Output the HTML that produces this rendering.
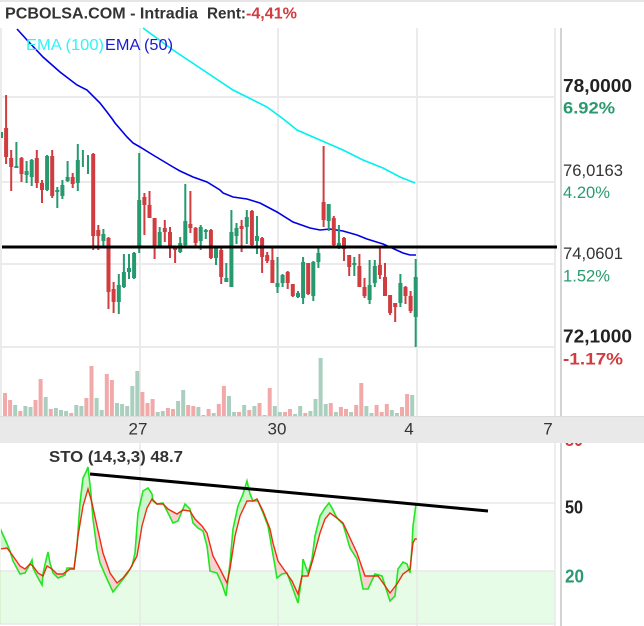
<!DOCTYPE html>
<html><head><meta charset="utf-8"><style>
html,body{margin:0;padding:0;background:#fff;overflow:hidden;width:644px;height:626px;}
svg{display:block;}
text{font-family:"Liberation Sans",sans-serif;}
</style></head><body>
<svg width="644" height="626" viewBox="0 0 644 626" xmlns="http://www.w3.org/2000/svg" xmlns:xlink="http://www.w3.org/1999/xlink">
<defs>
<path id="K" d="M0,625 L0,528 L1.7,532 6.7,543 10,551 13,561 20,574 25,573 30,564 32,560 33,568 37,576 42,585 43,574 46,560 48,552 50,563 53,573 58,578 65,575 67,568 72,568 74,569 77,546 80,503 83,478 86,472 88,467 91,494 93,519 97,549 100,563 107,579 113,592 120,583 127,574 132,566 135,553 138,513 143,491 148,488 152,494 153,501 157,504 163,503 168,513 173,523 178,521 182,511 185,504 190,509 193,523 198,528 203,531 207,546 210,571 217,573 222,584 226,596 230,563 233,529 238,506 243,494 247,481 250,494 253,501 258,501 263,513 268,526 272,549 277,578 282,574 287,573 293,589 298,603 302,576 303,559 308,573 312,559 315,536 320,516 325,508 329,503 332,508 337,518 343,524 350,548 357,559 363,589 368,589 375,574 382,576 390,601 395,596 398,569 403,562 407,564 410,573 412,546 413,526 416,504 L640,504 L640,625 Z"/>
<path id="D" d="M0,625 L0,549 L7,548 13,556 20,566 25,569 30,564 33,566 38,573 43,576 47,566 52,569 57,574 63,574 70,569 74,569 78,536 83,506 88,489 92,503 97,526 103,553 110,573 117,583 123,578 130,569 137,556 142,526 147,508 152,499 157,504 163,504 168,509 177,514 183,510 190,511 195,519 202,526 207,533 213,556 220,569 227,583 230,569 235,536 240,516 247,501 253,501 257,499 263,511 270,529 273,543 278,561 285,571 292,581 298,594 302,576 308,576 313,559 320,533 325,519 330,513 337,518 343,523 350,538 357,553 365,576 378,576 383,583 390,593 397,584 403,574 410,569 413,543 415,539 L640,539 L640,625 Z"/>
<mask id="mAboveD" maskUnits="userSpaceOnUse" x="0" y="0" width="644" height="626"><rect x="0" y="0" width="644" height="626" fill="#fff"/><use href="#D" xlink:href="#D" fill="#000"/></mask>
<mask id="mAboveK" maskUnits="userSpaceOnUse" x="0" y="0" width="644" height="626"><rect x="0" y="0" width="644" height="626" fill="#fff"/><use href="#K" xlink:href="#K" fill="#000"/></mask>
<clipPath id="stoClip"><rect x="0.9" y="440" width="415.9" height="184"/></clipPath>
</defs>
<rect x="0" y="0" width="644" height="626" fill="#fff"/>
<rect x="0" y="0" width="644" height="2" fill="#e6e6e6"/>
<path fill="none" stroke="#ebebeb" stroke-width="2" d="M0,97H556M0,182H556M0,264H556M0,347H556M140,28V416M278,28V416M417,28V416M555,28V416M1,28V416"/>
<path stroke="#d4d4d4" stroke-width="2" d="M561,28V416M561,443V626"/>
<path fill="none" stroke="#f2a9a9" stroke-width="4" d="M5,393V416M10.1,400V416M20.3,411V416M35.5,400V416M40.6,379V416M50.8,409V416M71.2,413V416M86.4,398V416M91.5,366V416M106.8,374V416M111.9,380V416M142.4,392V416M147.5,403V416M152.6,399V416M167.9,408V416M173,409V416M188.2,405V416M193.3,406V416M203.5,415V416M208.6,409V416M218.8,404V416M223.9,386V416M239.1,412V416M249.3,410V416M259.5,403V416M264.6,415V416M269.7,388V416M285,412V416M290,409V416M305.3,413V416M330.8,403V416M340.9,407V416M346,409V416M356.2,405V416M361.3,383V416M376.6,405V416M381.7,412V416M386.8,404V416M402,407V416M407.1,394V416"/>
<path fill="none" stroke="#abcfbf" stroke-width="4" d="M15.2,405V416M25.4,406V416M30.5,407V416M45.7,397V416M55.9,408V416M61,410V416M66.1,411V416M76.3,405V416M81.4,406V416M96.6,398V416M101.7,410V416M117,403V416M122.1,404V416M127.2,406V416M132.3,386V416M137.3,371V416M157.7,412V416M162.8,411V416M178.1,401V416M183.2,390V416M198.4,407V416M213.7,413V416M229,396V416M234.1,412V416M244.2,405V416M254.4,406V416M274.8,406V416M279.9,412V416M295.1,414V416M300.2,406V416M310.4,411V416M315.5,399V416M320.6,358V416M325.7,404V416M335.9,412V416M351.1,412V416M366.4,406V416M371.5,413V416M391.8,410V416M396.9,413V416M412.2,395V416"/>
<polyline fill="none" stroke="#0000e6" stroke-width="1.6" points="17,29 27,40 43,57 60,72 77,85 87,90 100,103 107,112 113,120 115,123 127,137 133,143 140,147 153,155 173,167 180,171 193,177 207,182 220,190 223,193 233,197 247,199 260,203 277,212 293,222 310,228 320,230 330,229 343,231 357,235 367,239 383,244 392,248 403,253 410,255 416,255"/>
<polyline fill="none" stroke="#00f0f0" stroke-width="1.6" points="143,28 173,50 200,68 233,90 267,107 282,118 297,130 320,140 343,150 363,160 383,168 400,177 415,183"/>
<path fill="none" stroke="#d03c40" stroke-width="2" d="M6.1,95V164M11.2,150V191M21.5,157V182M36.8,150V188M42,180V203M52.2,150V198M72.7,173V188M93.2,153V250M98.3,225V250M108.5,237V309M113.6,282V313M144.4,193V235M149.5,191V218M154.6,218V259M164.8,220V242M170,227V258M175.1,247V263M190.4,191V233M195.6,227V247M210.9,229V259M221.2,248V284M241.6,220V252M251.9,210V247M262.1,237V273M267.2,252V263M272.4,248V283M287.7,271V289M292.8,284V297M308.2,263V295M323.6,146V227M333.8,216V247M344,237V261M349.2,255V276M359.4,254V287M364.5,278V298M379.9,247V279M385,263V296M390.1,295V315M395.2,303V322M405.5,286V304M410.6,291V313"/>
<path fill="none" stroke="#d03c40" stroke-width="4" d="M6.1,128V157M11.2,158V167M21.5,158V174M36.8,158V183M42,183V190M52.2,156V196M72.7,177V184M93.2,154V236M98.3,230V236M108.5,238V292M113.6,289V302M144.4,197V205M149.5,205V218M154.6,218V247M164.8,228V232M170,232V247M175.1,247V250M190.4,224V228M195.6,228V243M210.9,230V258M221.2,250V277M241.6,226V229M251.9,211V245M262.1,238V257M267.2,255V261M272.4,260V283M287.7,272V283M292.8,284V296M308.2,263V294M323.6,202V220M333.8,218V245M344,238V249M349.2,255V267M359.4,266V287M364.5,287V296M379.9,265V275M385,277V296M390.1,295V313M395.2,303V307M405.5,287V296M410.6,296V311"/>
<path fill="none" stroke="#26996f" stroke-width="2" d="M2,132V138M16.4,142V168M26.6,161V183M31.7,159V186M47.1,155V191M57.3,187V208M62.4,180V199M67.6,161V182M77.8,144V191M82.9,150V167M88,155V174M103.4,229V247M118.8,274V314M123.9,254V288M129,254V279M134.1,252V279M139.2,153V253M159.7,227V248M180.2,237V253M185.3,184V246M200.7,225V250M205.8,229V239M216,248V265M226.3,263V282M231.4,210V287M236.5,223V244M246.8,210V244M257,216V254M277.5,257V293M282.6,274V287M298,291V298M303.1,257V304M313.3,261V301M318.4,248V268M328.7,204V231M338.9,225V249M354.3,257V276M369.6,260V304M374.8,260V287M400.4,274V307M415.7,259V347"/>
<path fill="none" stroke="#26996f" stroke-width="4" d="M16.4,166V168M26.6,171V175M31.7,160V177M47.1,156V190M57.3,190V192M62.4,185V196M67.6,177V181M77.8,160V183M103.4,234V241M118.8,285V302M123.9,272V287M129,268V272M134.1,253V278M139.2,200V247M159.7,232V246M180.2,243V252M185.3,221V245M200.7,227V241M205.8,230V232M216,248V258M226.3,278V282M231.4,232V287M236.5,228V236M246.8,217V227M257,236V241M277.5,283V287M282.6,275V283M298,293V297M303.1,262V298M313.3,262V296M318.4,253V262M328.7,204V221M338.9,243V248M354.3,263V265M369.6,285V300M374.8,266V283M400.4,283V303M415.7,277V317"/>
<rect x="2" y="245.5" width="555" height="3" fill="#000"/>
<text x="26" y="50" font-size="16" fill="#33f3f3" textLength="78" lengthAdjust="spacingAndGlyphs">EMA (100)</text>
<text x="105" y="50" font-size="16" fill="#1a1ad6" textLength="68" lengthAdjust="spacingAndGlyphs">EMA (50)</text>
<text x="5" y="18.5" font-size="16" font-weight="bold" fill="#333" textLength="193" lengthAdjust="spacingAndGlyphs">PCBOLSA.COM - Intradia</text>
<text x="207" y="18.5" font-size="16" font-weight="bold" fill="#333" textLength="39" lengthAdjust="spacingAndGlyphs">Rent:</text>
<text x="246" y="18.5" font-size="16" font-weight="bold" fill="#d03c40" textLength="51" lengthAdjust="spacingAndGlyphs">-4,41%</text>
<text x="563" y="92" font-size="18" font-weight="bold" fill="#222" textLength="69" lengthAdjust="spacingAndGlyphs">78,0000</text>
<text x="563" y="113.5" font-size="17" font-weight="bold" fill="#2a9a6e" textLength="52" lengthAdjust="spacingAndGlyphs">6.92%</text>
<text x="563" y="176" font-size="17" fill="#333" textLength="60" lengthAdjust="spacingAndGlyphs">76,0163</text>
<text x="563" y="198" font-size="17" fill="#2a9a6e" textLength="47" lengthAdjust="spacingAndGlyphs">4.20%</text>
<text x="563" y="259" font-size="17" fill="#333" textLength="60" lengthAdjust="spacingAndGlyphs">74,0601</text>
<text x="563" y="281.5" font-size="17" fill="#2a9a6e" textLength="47" lengthAdjust="spacingAndGlyphs">1.52%</text>
<text x="563" y="342.5" font-size="18" font-weight="bold" fill="#222" textLength="69" lengthAdjust="spacingAndGlyphs">72,1000</text>
<text x="563" y="364.5" font-size="17" font-weight="bold" fill="#d03c40" textLength="60" lengthAdjust="spacingAndGlyphs">-1.17%</text>
<rect x="0" y="571" width="555" height="53" fill="#e7fce7"/>
<path fill="none" stroke="#e8e8e8" stroke-width="1.5" d="M0,503H555M0,571H555M0,624H555M140,443V626M278,443V626M417,443V626M555,443V626"/>
<g clip-path="url(#stoClip)">
<use href="#K" xlink:href="#K" fill="#ccf7cc" mask="url(#mAboveD)"/>
<use href="#D" xlink:href="#D" fill="#f7d2d2" mask="url(#mAboveK)"/>
<use href="#K" xlink:href="#K" fill="none" stroke="#22e622" stroke-width="1.6"/>
<use href="#D" xlink:href="#D" fill="none" stroke="#ee1a00" stroke-width="1.4" stroke-opacity="0.9"/>
</g>
<line x1="90" y1="474" x2="488" y2="511" stroke="#000" stroke-width="3"/>
<text x="49" y="462" font-size="16" font-weight="bold" fill="#333" textLength="134" lengthAdjust="spacingAndGlyphs">STO (14,3,3) 48.7</text>
<text x="565" y="446" font-size="18" font-weight="bold" fill="#d03c40" textLength="18" lengthAdjust="spacingAndGlyphs">80</text>
<text x="565" y="513.5" font-size="18" font-weight="bold" fill="#222" textLength="18" lengthAdjust="spacingAndGlyphs">50</text>
<text x="565" y="582.5" font-size="18" font-weight="bold" fill="#2a9a6e" textLength="19" lengthAdjust="spacingAndGlyphs">20</text>
<rect x="0" y="416" width="644" height="27" fill="#e9e9e9"/>
<rect x="0" y="416" width="644" height="1" fill="#dcdcdc"/>
<g font-size="17" fill="#333" text-anchor="middle">
<text x="138" y="434.5">27</text>
<text x="277" y="434.5">30</text>
<text x="409" y="434.5">4</text>
<text x="548" y="434.5">7</text>
</g>
</svg>
</body></html>
